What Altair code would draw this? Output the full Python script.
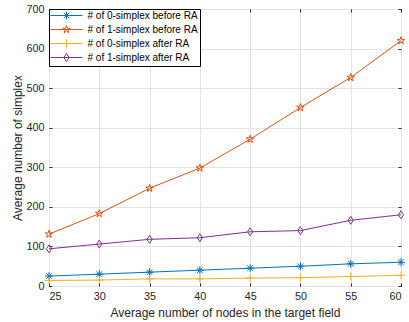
import altair as alt
import pandas as pd

nodes = [25, 30, 35, 40, 45, 50, 55, 60]
s0_before = [25, 30, 35, 40, 45, 50, 56, 60]
s1_before = [131, 183, 247, 298, 371, 451, 527, 620]
s0_after = [14, 15, 18, 18, 20, 21, 24, 27]
s1_after = [94, 106, 118, 122, 137, 140, 166, 180]

names = ["# of 0-simplex before RA", "# of 1-simplex before RA",
         "# of 0-simplex after RA", "# of 1-simplex after RA"]
colors = ["#0072BD", "#D95319", "#EDB120", "#7E2F8E"]

# invisible zero-length sub-paths give every legend symbol the same height
pad_ext = "M0,-1.2V-1.2M0,1.2V1.2"
asterisk = "M-1,0H1M0,-1V1M-0.7,-0.7L0.7,0.7M-0.7,0.7L0.7,-0.7" + pad_ext
star = ("M0,-1L0.225,-0.309L0.951,-0.309L0.363,0.118L0.588,0.809L0,0.382"
        "L-0.588,0.809L-0.363,0.118L-0.951,-0.309L-0.225,-0.309Z" + pad_ext)
plus = "M-1,0H1M0,-1V1" + pad_ext
diamond = "M0,-1L0.65,0L0,1L-0.65,0Z" + pad_ext
shapes = [asterisk, star, plus, diamond]
legend_line = "M-4,0H4" + pad_ext

rows = []
for name, vals in zip(names, [s0_before, s1_before, s0_after, s1_after]):
    for x, v in zip(nodes, vals):
        rows.append({"x": x, "v": v, "series": name, "series_l": name})
df = pd.DataFrame(rows)

FONT = "Liberation Sans"
TXT = "#262626"

xs = alt.Scale(domain=[25, 60], nice=False)
ys = alt.Scale(domain=[0, 700], nice=False)

common_leg = dict(orient="none", legendX=0, legendY=0, direction="vertical",
                  title=None, symbolSize=64, symbolStrokeWidth=1, padding=1.5,
                  labelFont=FONT, labelFontSize=10, labelOffset=16,
                  rowPadding=0, symbolOffset=11, labelLimit=300)

lines = alt.Chart(df).mark_line(strokeWidth=1, clip=True).encode(
    x=alt.X("x:Q", scale=xs, axis=alt.Axis(
        orient="bottom", values=nodes, offset=-3, tickSize=3, domain=False,
        labelPadding=4, title="Average number of nodes in the target field",
        titlePadding=7, grid=True, gridColor="#e3e3e3", tickColor=TXT,
        labelColor=TXT, titleColor=TXT, labelFont=FONT, titleFont=FONT,
        labelFontSize=10.8, titleFontSize=12, titleFontWeight="normal")),
    y=alt.Y("v:Q", scale=ys, axis=alt.Axis(
        orient="left", values=list(range(0, 701, 100)), offset=-3, tickSize=3,
        domain=False, labelPadding=5, title="Average number of simplex",
        titlePadding=1, grid=True, gridColor="#e3e3e3", tickColor=TXT,
        labelColor=TXT, titleColor=TXT, labelFont=FONT, titleFont=FONT,
        labelFontSize=10.8, titleFontSize=12, titleFontWeight="normal")),
    color=alt.Color("series_l:N", scale=alt.Scale(domain=names, range=colors),
                    legend=alt.Legend(symbolType=legend_line,
                                      strokeColor="#000000", fillColor="#ffffff",
                                      labelColor="#000000", **common_leg)),
)

mleg = alt.Legend(labelOpacity=0, **common_leg)

points = alt.Chart(df).mark_point(filled=False, strokeWidth=1, size=64, opacity=1).encode(
    x=alt.X("x:Q", scale=xs, axis=alt.Axis(
        orient="top", values=nodes, offset=-3, tickSize=3, domain=False,
        labels=False, title=None, grid=False, tickColor=TXT)),
    y=alt.Y("v:Q", scale=ys, axis=alt.Axis(
        orient="right", values=list(range(0, 701, 100)), offset=-3, tickSize=3,
        domain=False, labels=False, title=None, grid=False, tickColor=TXT)),
    color=alt.Color("series:N", scale=alt.Scale(domain=names, range=colors),
                    legend=mleg),
    shape=alt.Shape("series:N", scale=alt.Scale(domain=names, range=shapes),
                    legend=mleg),
)

chart = alt.layer(lines, points).resolve_scale(
    color="independent", shape="independent"
).resolve_legend(
    color="independent", shape="independent"
).resolve_axis(
    x="independent", y="independent"
).properties(
    width=352, height=277,
    autosize=alt.AutoSizeParams(type="none"),
    padding={"left": 49, "top": 9, "right": 8, "bottom": 36},
).configure_view(
    stroke=TXT, strokeWidth=1
).configure(background="white")

chart.save("out.html", embed_options={"renderer": "svg", "actions": False})
